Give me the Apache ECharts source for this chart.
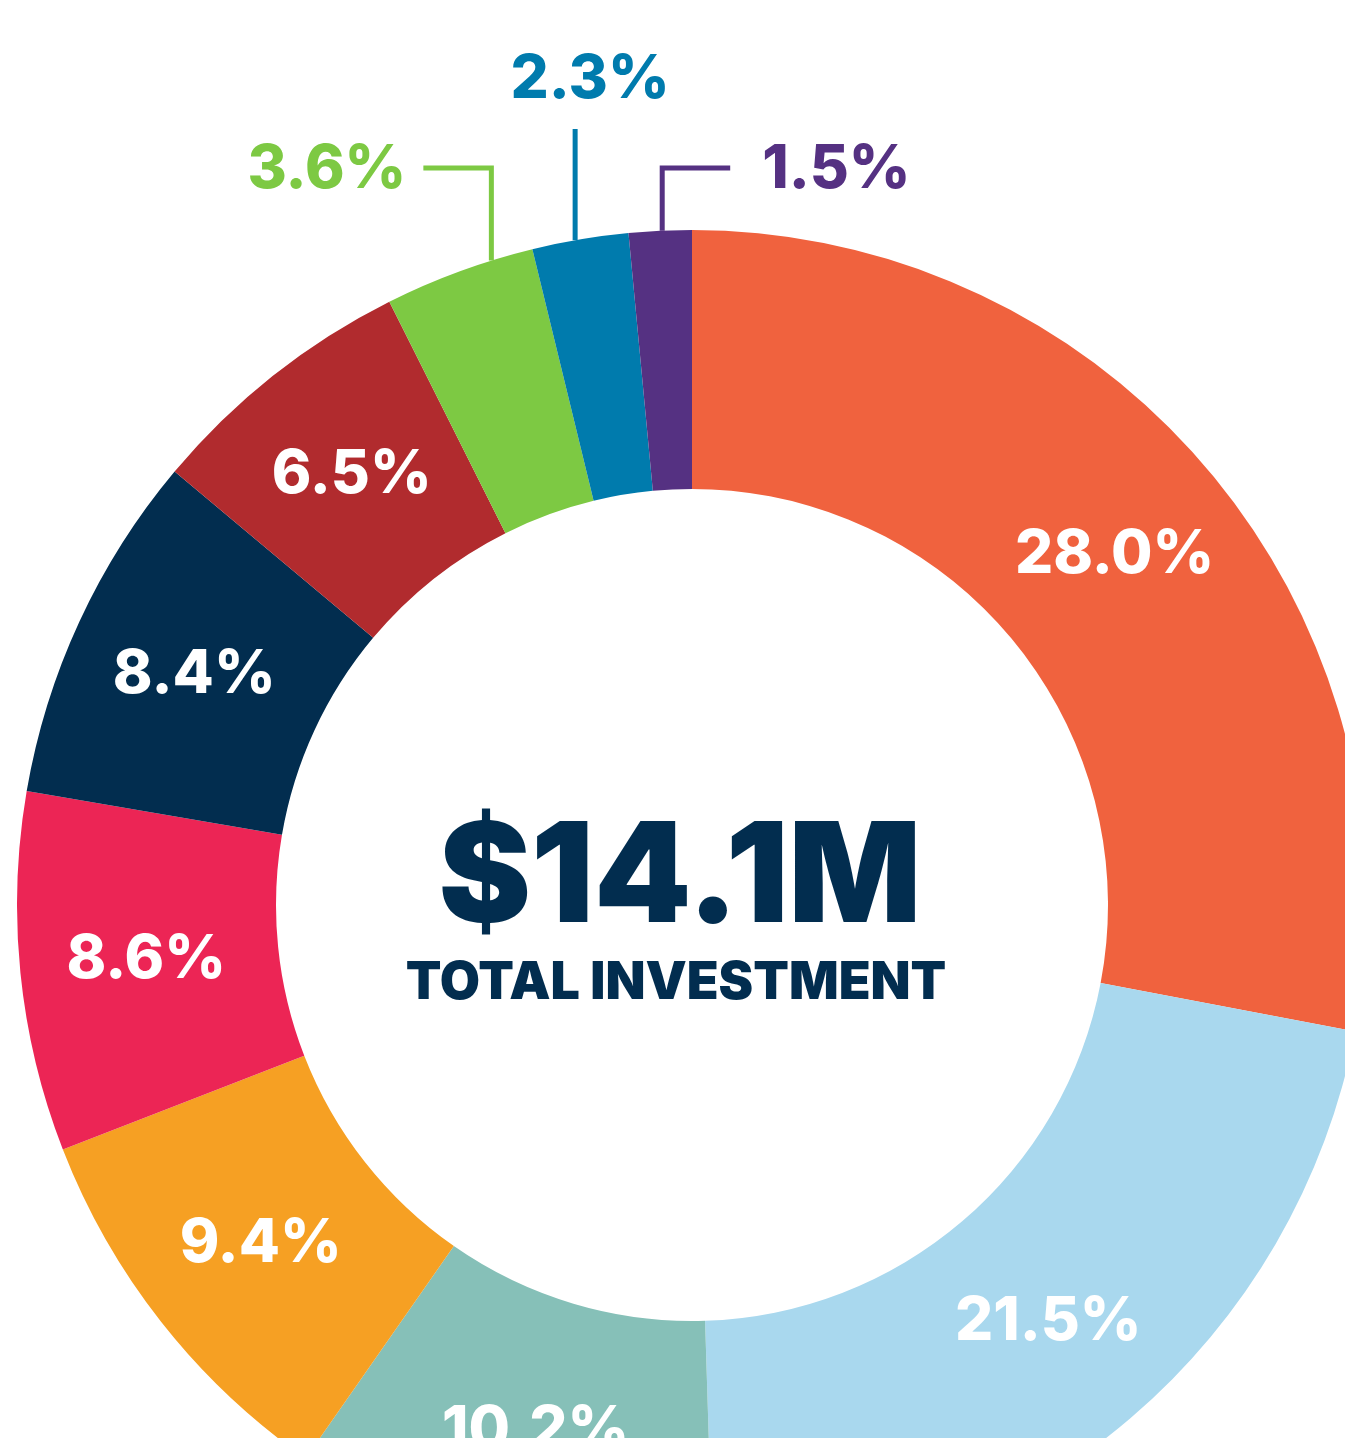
<!DOCTYPE html>
<html>
<head>
<meta charset="utf-8">
<script src="https://cdn.jsdelivr.net/npm/echarts@6/dist/echarts.min.js"></script>
<style>
  html, body { margin: 0; padding: 0; background: #ffffff; }
  #investment-donut-chart { width: 1345px; height: 1438px; }
</style>
</head>
<body>
<div id="investment-donut-chart"></div>
<script>
// share of total investment, clockwise from 12 o'clock
var sliceNames = ['Segment 1', 'Segment 2', 'Segment 3', 'Segment 4', 'Segment 5',
                  'Segment 6', 'Segment 7', 'Segment 8', 'Segment 9', 'Segment 10'];
var sliceValues = [28.0, 21.5, 10.2, 9.4, 8.6, 8.4, 6.5, 3.6, 2.3, 1.5];
var totalText = '$14.1M';
var totalCaption = 'TOTAL INVESTMENT';

var sliceColors = ['#f0623e', '#a9d8ee', '#86c0b8', '#f6a023', '#ec2555',
                   '#022d4f', '#b12b2e', '#7dc943', '#007bad', '#553182'];

var CX = 692, CY = 905, R_IN = 416, R_OUT = 675;
var FONT = 'Inter, "Noto Sans", sans-serif';
var firstOutside = 7;            // small slices get labels outside
var lineShift = [32, -5, 2];     // where the leader leaves the arc
var elbowY = [168, 129, 168];

var investment_donut_chart = echarts.init(document.getElementById('investment-donut-chart'));

var pieData = [];
for (var i = 0; i < sliceValues.length; i++) {
    var item = {
        name: sliceNames[i],
        value: sliceValues[i],
        itemStyle: { color: sliceColors[i] }
    };
    if (i >= firstOutside) {
        item.label = { position: 'outside', color: sliceColors[i] };
        item.labelLine = { show: true, lineStyle: { color: sliceColors[i], width: 5 } };
    }
    pieData.push(item);
}

var option = {
    animation: false,
    graphic: [
        {
            type: 'text',
            x: CX - 12,
            y: 880,
            style: {
                text: totalText,
                align: 'center',
                verticalAlign: 'middle',
                fill: '#022d4f',
                font: '900 139px ' + FONT
            }
        },
        {
            type: 'text',
            x: CX - 16,
            y: 983,
            style: {
                text: totalCaption,
                align: 'center',
                verticalAlign: 'middle',
                fill: '#022d4f',
                font: '900 52px ' + FONT
            }
        }
    ],
    series: [
        {
            type: 'pie',
            center: [CX, CY],
            radius: [R_IN, R_OUT],
            startAngle: 90,
            clockwise: true,
            avoidLabelOverlap: false,
            silent: true,
            label: {
                show: true,
                position: 'inside',
                color: '#ffffff',
                fontFamily: FONT,
                fontWeight: 800,
                fontSize: 60,
                formatter: function (p) {
                    return p.value.toFixed(1) + '%';
                }
            },
            labelLine: { show: false },
            labelLayout: function (params) {
                var k = params.dataIndex - firstOutside;
                if (k < 0) {
                    return {};
                }
                var p0 = params.labelLinePoints[0];
                var x = p0[0] + lineShift[k];
                var y = CY - Math.sqrt(R_OUT * R_OUT - (x - CX) * (x - CX));
                var ey = elbowY[k];
                if (k === 0) {
                    return {
                        x: x - 85, y: ey + 2, align: 'right', verticalAlign: 'middle',
                        labelLinePoints: [[x, y], [x, ey], [x - 68, ey]]
                    };
                }
                if (k === 1) {
                    return {
                        x: x + 15, y: 80, align: 'center', verticalAlign: 'middle',
                        labelLinePoints: [[x, y], [x, ey], [x, ey]]
                    };
                }
                return {
                    x: x + 100, y: ey + 2, align: 'left', verticalAlign: 'middle',
                    labelLinePoints: [[x, y], [x, ey], [x + 68, ey]]
                };
            },
            data: pieData
        }
    ]
};

investment_donut_chart.setOption(option);
</script>
</body>
</html>
